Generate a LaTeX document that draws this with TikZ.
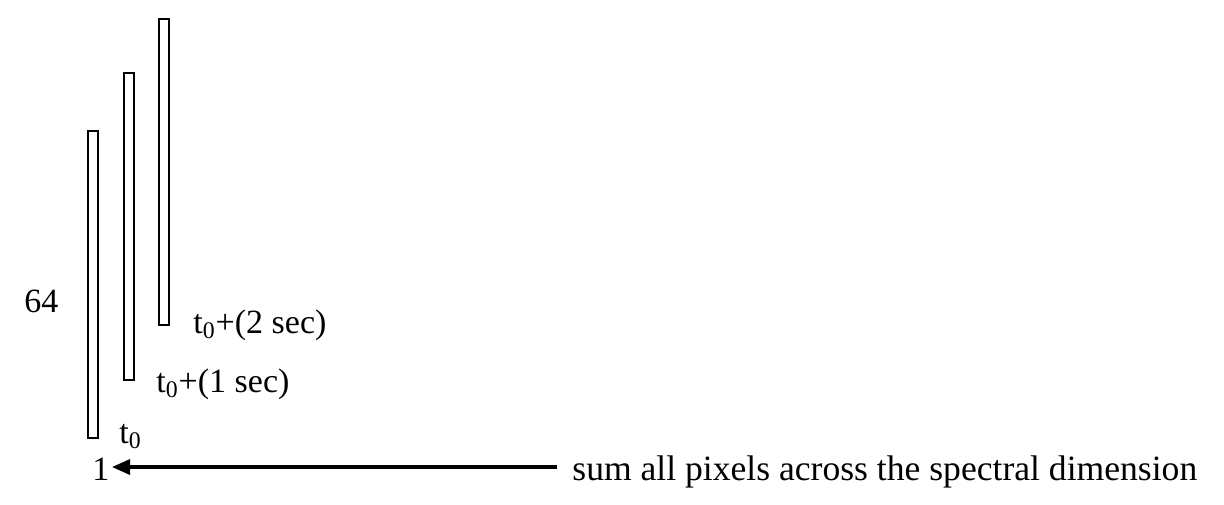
\documentclass[tikz,border=0pt]{standalone}
\usepackage{fontspec}
\setmainfont{Liberation Serif}
\usetikzlibrary{arrows.meta,positioning}
\tikzset{
  framebar/.style={draw, line width=0.9pt, minimum width=5pt, inner sep=0pt, anchor=north west},
  lbl/.style={font=\fontsize{17}{20}\selectfont, inner sep=0pt, anchor=base west}
}
\begin{document}
\begin{tikzpicture}[x=0.5pt, y=-0.5pt]
  \useasboundingbox (0,0) rectangle (1224,504);
  % frames at successive times
  \node[framebar, minimum height=153.5pt] (bar0) at (87,130) {};
  \node[framebar, minimum height=153.5pt] (bar1) at (123,72) {};
  \node[framebar, minimum height=153pt]   (bar2) at (158,18) {};
  % labels
  \node[lbl] (t0)   at (119,443) {t\textsubscript{0}};
  \node[lbl] (t1)   at (156,392) {t\textsubscript{0}+(1 sec)};
  \node[lbl] (t2)   at (193,333) {t\textsubscript{0}+(2 sec)};
  \node[lbl] (n64)  at (24,312)  {64};
  \node[lbl] (one)  at (92,480)  {1};
  \node[lbl, font=\fontsize{17.8}{20}\selectfont] (sum) at (572,480) {sum all pixels across the spectral dimension};
  \coordinate (tail) at (557,467);
  \coordinate (tip)  at (112,467);
  \draw[line width=1.6pt, -{Triangle[length=9pt,width=7.5pt]}] (tail) -- (tip);
\end{tikzpicture}
\end{document}
